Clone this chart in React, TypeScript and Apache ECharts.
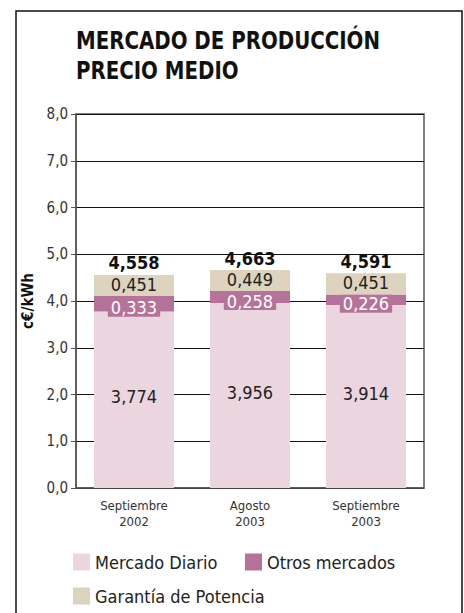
import React, { useEffect, useRef } from "react";
import * as echarts from "echarts";

const categories = ["Septiembre\n2002", "Agosto\n2003", "Septiembre\n2003"];
const mercadoDiario = [3.774, 3.956, 3.914];
const otrosMercados = [0.333, 0.258, 0.226];
const garantiaPotencia = [0.451, 0.449, 0.451];
const totals = [4.558, 4.663, 4.591];
const seriesNames = ["Mercado Diario", "Otros mercados", "Garantía de Potencia"];
const titleText = "MERCADO DE PRODUCCIÓN\nPRECIO MEDIO";

const FONT = "'Liberation Sans Narrow','DejaVu Sans Condensed','Roboto Condensed','Arial Narrow',Roboto,sans-serif";
const C_DIARIO = "#EBD6E0";
const C_OTROS = "#B5739A";
const C_GARANTIA = "#DDD3BF";

const fmt3 = (v: number) => v.toFixed(3).replace(".", ",");
const fmt1 = (v: number) => v.toFixed(1).replace(".", ",");

export default function App() {
  const ref = useRef<HTMLDivElement>(null);
  useEffect(() => {
    if (!ref.current) return;
    const chart = echarts.init(ref.current, null, { renderer: "svg" });
    const legendBase = {
      orient: "horizontal",
      padding: 0,
      itemWidth: 17,
      itemHeight: 17,
      icon: "rect",
      selectedMode: false,
      textStyle: { fontFamily: FONT, fontSize: 18, color: "#222" },
    };
    chart.setOption({
      animation: false,
      textStyle: { fontFamily: FONT },
      graphic: [
        {
          type: "rect",
          shape: { x: 16, y: 11, width: 446, height: 640 },
          style: { fill: "none", stroke: "#111", lineWidth: 1.5 },
          silent: true,
        },
        {
          type: "text",
          x: 76,
          y: 26,
          scaleX: 0.88,
          silent: true,
          style: {
            text: titleText,
            fontFamily: FONT,
            fontSize: 25,
            fontWeight: "bold",
            lineHeight: 30,
            fill: "#111",
          },
        },
      ],
      legend: [
        { ...legendBase, left: 73, top: 553, data: [seriesNames[0]] },
        { ...legendBase, left: 245, top: 553, data: [seriesNames[1]] },
        { ...legendBase, left: 73, top: 587, data: [seriesNames[2]] },
      ],
      grid: {
        left: 76,
        right: 40,
        top: 114,
        bottom: 125,
        show: true,
        borderColor: "#555",
        borderWidth: 1.5,
        backgroundColor: "transparent",
      },
      xAxis: {
        type: "category",
        data: categories,
        axisLine: { show: true, lineStyle: { color: "#555", width: 1.5 } },
        axisTick: { show: false },
        axisLabel: {
          fontFamily: FONT,
          fontSize: 13,
          lineHeight: 16,
          color: "#333",
          margin: 9,
        },
      },
      yAxis: {
        type: "value",
        min: 0,
        max: 8,
        interval: 1,
        name: "c€/kWh",
        nameLocation: "middle",
        nameRotate: 90,
        nameGap: 39,
        nameTextStyle: { fontFamily: FONT, fontSize: 15, fontWeight: "bold", color: "#111" },
        axisLine: { show: true, lineStyle: { color: "#555", width: 1.5 } },
        axisTick: { show: true, length: 5, lineStyle: { color: "#555" } },
        axisLabel: {
          fontFamily: FONT,
          fontSize: 15,
          color: "#333",
          margin: 8,
          formatter: (v: number) => fmt1(v),
        },
        splitLine: { show: true, lineStyle: { color: "#111", width: 1 } },
      },
      series: [
        {
          name: seriesNames[0],
          type: "bar",
          stack: "a",
          barWidth: 80,
          data: mercadoDiario,
          itemStyle: { color: C_DIARIO },
          label: {
            show: true,
            position: "inside",
            offset: [0, -3],
            fontFamily: FONT,
            fontSize: 18,
            color: "#222",
            formatter: (p: any) => fmt3(p.value),
          },
        },
        {
          name: seriesNames[1],
          type: "bar",
          stack: "a",
          barWidth: 80,
          data: otrosMercados,
          itemStyle: { color: C_OTROS },
          label: {
            show: true,
            position: "inside",
            offset: [0, 4],
            fontFamily: FONT,
            fontSize: 18,
            lineHeight: 18,
            color: "#fff",
            backgroundColor: C_OTROS,
            padding: [0, 3],
            formatter: (p: any) => fmt3(p.value),
          },
        },
        {
          name: seriesNames[2],
          type: "bar",
          stack: "a",
          barWidth: 80,
          data: garantiaPotencia,
          itemStyle: { color: C_GARANTIA },
          label: {
            show: true,
            position: "inside",
            offset: [0, -1],
            fontFamily: FONT,
            fontSize: 18,
            lineHeight: 18,
            color: "#222",
            formatter: (p: any) => fmt3(p.value),
          },
        },
        {
          name: "Total",
          type: "bar",
          stack: "a",
          barWidth: 80,
          data: totals.map(() => 0),
          itemStyle: { color: "transparent" },
          label: {
            show: true,
            position: "top",
            distance: 3,
            fontFamily: FONT,
            fontSize: 18,
            fontWeight: "bold",
            color: "#111",
            formatter: (p: any) => fmt3(totals[p.dataIndex]),
          },
        },
      ],
    });
    return () => chart.dispose();
  }, []);
  return (
    <div
      ref={ref}
      style={{ position: "fixed", left: 0, top: 0, width: 464, height: 613, background: "#fff" }}
    />
  );
}
